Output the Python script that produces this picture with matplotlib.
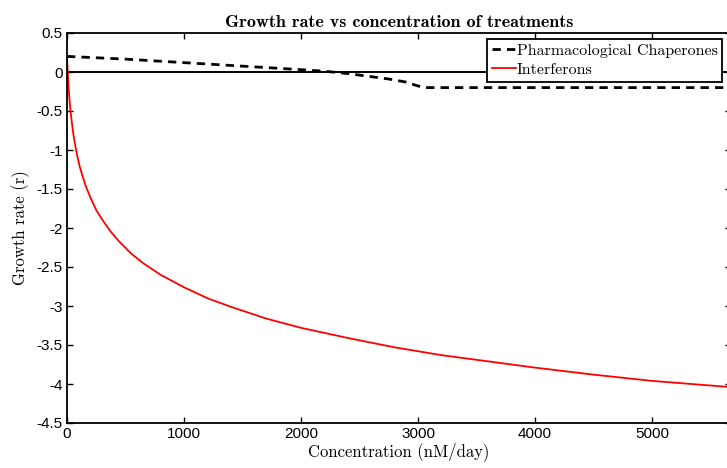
import numpy as np
import matplotlib
matplotlib.use("Agg")
from matplotlib import pyplot as plt
from matplotlib.ticker import FuncFormatter

plt.rcParams['axes.unicode_minus'] = False

# Interferons curve
conc_ifn = [0, 2, 5, 10, 15, 20, 30, 40, 50, 60, 75, 90, 110, 130, 160, 200, 250,
            300, 370, 450, 550, 650, 800, 1000, 1200, 1400, 1700, 2000, 2400,
            2800, 3200, 3600, 4000, 4500, 5000, 5675]
rate_ifn = [0.2, 0.13, 0.03, -0.11, -0.23, -0.33, -0.50, -0.63, -0.75, -0.85,
            -0.98, -1.09, -1.22, -1.32, -1.46, -1.61, -1.77, -1.89, -2.04, -2.18,
            -2.33, -2.45, -2.60, -2.76, -2.90, -3.01, -3.16, -3.28, -3.41, -3.53,
            -3.63, -3.71, -3.79, -3.88, -3.96, -4.04]

# Pharmacological chaperones curve
conc_pc = [0, 500, 1000, 1500, 2000, 2200, 2400, 2600, 2750, 2900, 2980, 3050, 5675]
rate_pc = [0.2, 0.165, 0.12, 0.075, 0.03, 0.01, -0.02, -0.06, -0.09, -0.13,
           -0.17, -0.2, -0.2]

xticks = [0, 1000, 2000, 3000, 4000, 5000]
yticks = [-4.5, -4, -3.5, -3, -2.5, -2, -1.5, -1, -0.5, 0, 0.5]

fig = plt.figure(figsize=(7.27, 4.68), dpi=100)
ax = fig.add_axes([67/727, 1-423/468, (731-67)/727, 390/468])

ax.axhline(0, color='black', lw=1.4, zorder=1)
ax.plot(conc_pc, rate_pc, 'k--', lw=2.0, dashes=(3, 2.2), label='Pharmacological Chaperones')
ax.plot(conc_ifn, rate_ifn, color='red', lw=1.3, label='Interferons')

ax.set_xlim(0, 5675)
ax.set_ylim(-4.5, 0.5)
ax.set_xticks(xticks)
ax.set_yticks(yticks)
ax.yaxis.set_major_formatter(FuncFormatter(lambda v, p: '%g' % v))
ax.tick_params(direction='in', top=True, right=True, length=4, width=1,
               labelsize=11, pad=3)
for lab in ax.get_xticklabels() + ax.get_yticklabels():
    lab.set_family('Liberation Sans')
for s in ax.spines.values():
    s.set_linewidth(1.3)

ax.set_title('Growth rate vs concentration of treatments', fontfamily='cmb10',
             fontsize=13, pad=4)
ax.set_xlabel('Concentration (nM/day)', fontfamily='cmr10', fontsize=12, labelpad=1)
ax.set_ylabel('Growth rate (r)', fontfamily='cmr10', fontsize=12, labelpad=5)

leg = fig.legend(loc='upper left', bbox_to_anchor=(487/727, 1-39/468),
                 prop={'family': 'cmr10', 'size': 11.5}, frameon=True, fancybox=False,
                 framealpha=1, edgecolor='black', borderpad=0.3, labelspacing=0.3,
                 handlelength=1.5, handletextpad=0.05, borderaxespad=0)
leg.get_frame().set_linewidth(1.3)

plt.savefig('out.png', dpi=100)
